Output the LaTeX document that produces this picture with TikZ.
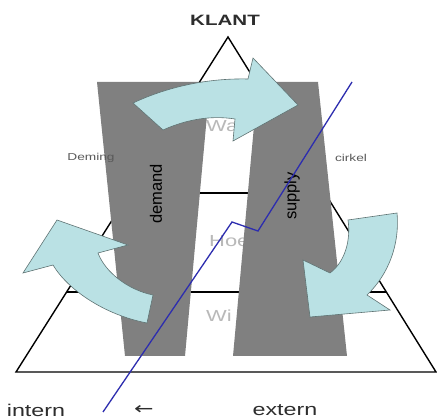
\documentclass[tikz,border=0pt]{standalone}
\usepackage{fontspec}
\setmainfont{Liberation Sans}
\newfontfamily\arrowfont{DejaVu Sans}
\definecolor{bargray}{RGB}{128,128,128}
\definecolor{arrowfill}{RGB}{186,225,228}
\definecolor{arrowedge}{RGB}{95,115,115}
\definecolor{blueline}{RGB}{45,45,175}
\definecolor{faint}{RGB}{185,185,185}
\definecolor{smallgray}{RGB}{90,90,90}
\definecolor{textdark}{RGB}{45,45,45}
\newcommand\wide[1]{\scalebox{1.37}[1]{#1}}
\begin{document}
\begin{tikzpicture}[x=1pt,y=-1pt,
  tri/.style={draw=black,line width=1.4pt,line join=miter},
  bar/.style={fill=bargray,draw=none},
  cyanarrow/.style={fill=arrowfill,draw=arrowedge,line width=0.6pt,line join=miter},
  faintlbl/.style={text=faint,font=\fontsize{16}{16}\selectfont,inner sep=0pt,anchor=west},
  small/.style={text=smallgray,font=\fontsize{10}{10}\selectfont,inner sep=0pt},
  vlbl/.style={text=black,font=\fontsize{16.5}{16.5}\selectfont,rotate=90,inner sep=0pt},
  bottom/.style={text=textdark,font=\fontsize{17}{17}\selectfont,inner sep=0pt}]
\useasboundingbox (0,0) rectangle (437,419);
\fill[white] (0,0) rectangle (437,419);

% pyramid
\coordinate (apex) at (228,37);
\coordinate (bl) at (16,372);
\coordinate (br) at (436,372);
\coordinate (h1l) at (129,193);
\coordinate (h1r) at (325,193);
\coordinate (h2l) at (67,292);
\coordinate (h2r) at (386,292);
\draw[tri] (apex) -- (bl) -- (br) -- cycle;
\draw[tri] (h1l) -- (h1r);
\draw[tri] (h2l) -- (h2r);

% faint level labels
\node[faintlbl] (wat) at (206,126) {\wide{Wa}};
\node[faintlbl] (hoe) at (209,241) {\wide{Hoe}};
\node[faintlbl] (wie) at (206,316) {\wide{Wi}};

% bars
\fill[bar] (97,82) -- (210,82) -- (185,356) -- (125,356) -- cycle;
\fill[bar] (258,82) -- (318,82) -- (347,356) -- (233,356) -- cycle;

\node[vlbl] (demand) at (156,194) {demand};
\node[vlbl] (supply) at (292,196) {supply};

\node[small] (deming) at (91,158) {\wide{Deming}};
\node[small] (cirkel) at (351,158) {\wide{cirkel}};

% blue line
\coordinate (b1) at (103,412);
\coordinate (b2) at (232,222);
\coordinate (b3) at (258,231);
\coordinate (b4) at (352,82);
\draw[blueline,line width=1.3pt,line join=miter] (b1) -- (b2) -- (b3) -- (b4);

% curved arrows
\draw[cyanarrow] (133,103) .. controls (165,88) and (205,78) .. (248,79)
  -- (253,58) -- (298,105) -- (233,141) -- (235,119)
  .. controls (210,115) and (185,120) .. (163,130) -- cycle;
\draw[cyanarrow] (57,220) -- (23,273) -- (53,265)
  .. controls (68,290) and (105,315) .. (147,323)
  -- (153,295) .. controls (128,290) and (105,272) .. (98,253)
  -- (128,245) -- cycle;
\draw[cyanarrow] (348,220) -- (397,213)
  .. controls (400,245) and (388,275) .. (367,295)
  -- (390,310) -- (310,317) -- (303,260) -- (330,273)
  .. controls (345,262) and (351,240) .. (348,220) -- cycle;

% texts
\node[text=textdark,font=\bfseries\fontsize{15}{15}\selectfont,inner sep=0pt] (klant) at (225,20.5) {\wide{KLANT}};
\node[bottom] (intern) at (36,410) {\wide{intern}};
\node[bottom] (larr) at (144,410) {\wide{\arrowfont ←}};
\node[bottom] (extern) at (285,410) {\wide{extern}};
\end{tikzpicture}
\end{document}
